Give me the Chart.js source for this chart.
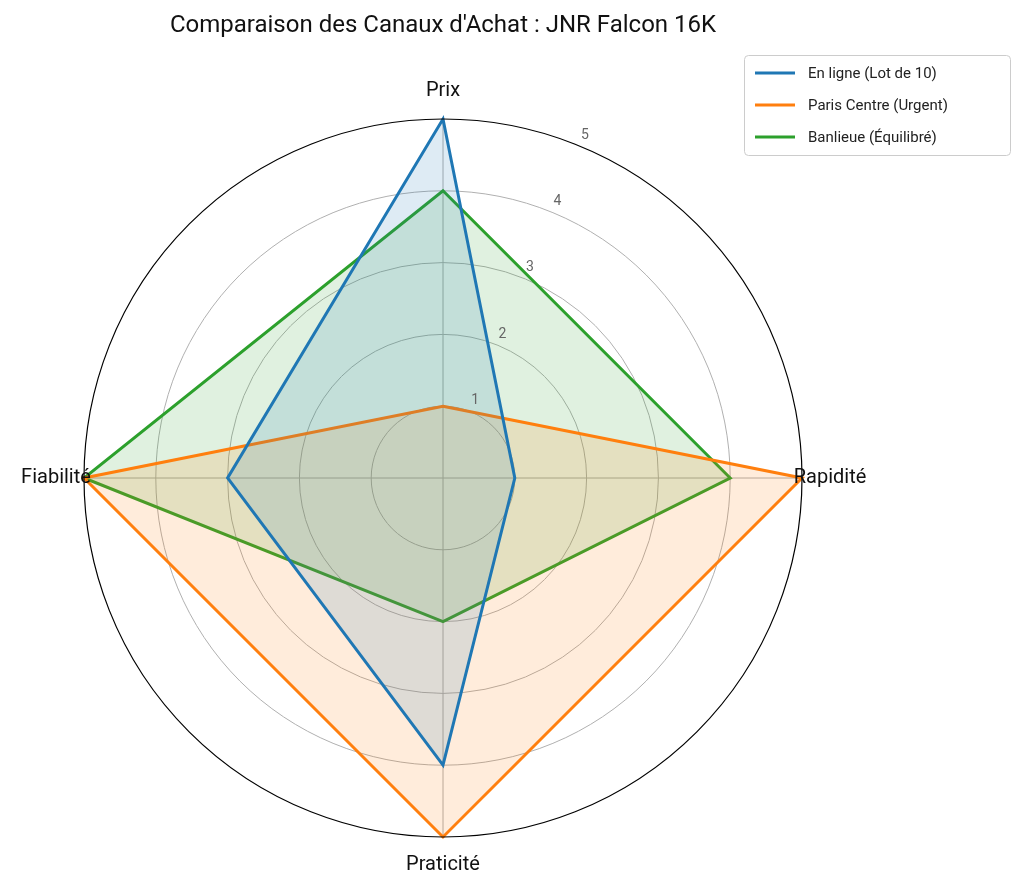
<!DOCTYPE html>
<html>
<head>
<meta charset="utf-8">
<script src="https://cdn.jsdelivr.net/npm/chart.js@4.4.0/dist/chart.umd.min.js"></script>
<style>
  html, body { margin: 0; padding: 0; background: #fff; }
  #wrap { width: 1024px; height: 890px; }
</style>
</head>
<body>
<div id="wrap"><canvas id="radar"></canvas></div>
<script>
const criteres = ['Prix', 'Rapidité', 'Praticité', 'Fiabilité'];
const enLigne = [5, 1, 4, 3];
const parisCentre = [1, 5, 5, 5];
const banlieue = [4, 4, 2, 5];
const tickValues = [1, 2, 3, 4, 5];
const titre = "Comparaison des Canaux d'Achat : JNR Falcon 16K";
const FONT = 'Roboto, "Noto Sans", sans-serif';

const series = [
    { label: 'En ligne (Lot de 10)', data: enLigne, color: '#1f77b4', fill: 'rgba(31,119,180,0.15)' },
    { label: 'Paris Centre (Urgent)', data: parisCentre, color: '#ff7f0e', fill: 'rgba(255,127,14,0.15)' },
    { label: 'Banlieue (Équilibré)', data: banlieue, color: '#2ca02c', fill: 'rgba(44,160,44,0.15)' }
];

const decor = {
    id: 'decor',
    afterDraw(chart) {
        const ctx = chart.ctx;
        const r = chart.scales.r;
        const cx = r.xCenter, cy = r.yCenter;
        ctx.save();
        // outer circle
        ctx.strokeStyle = '#000';
        ctx.lineWidth = 1.2;
        ctx.beginPath();
        ctx.arc(cx, cy, r.getDistanceFromCenterForValue(5), 0, Math.PI * 2);
        ctx.stroke();
        // tick labels at 22.5 degrees
        ctx.fillStyle = '#666';
        ctx.font = '14px ' + FONT;
        ctx.textAlign = 'center';
        ctx.textBaseline = 'middle';
        const a = 22.5 * Math.PI / 180;
        tickValues.forEach(v => {
            const d = r.getDistanceFromCenterForValue(v) + 12;
            ctx.fillText(String(v), cx + d * Math.sin(a), cy - d * Math.cos(a));
        });
        // point labels
        ctx.fillStyle = '#111';
        ctx.font = '20px ' + FONT;
        criteres.forEach((lab, i) => {
            const ang = i * Math.PI / 2;
            const d = r.getDistanceFromCenterForValue(5) + 28;
            ctx.fillText(lab, cx + d * Math.sin(ang), cy - d * Math.cos(ang));
        });
        // title
        ctx.font = '24px ' + FONT;
        ctx.fillText(titre, cx, 26);
        // legend
        ctx.strokeStyle = '#cccccc';
        ctx.lineWidth = 1;
        ctx.fillStyle = 'rgba(255,255,255,0.85)';
        ctx.beginPath();
        ctx.roundRect(744.5, 55.5, 266, 100, 4);
        ctx.fill();
        ctx.stroke();
        ctx.font = '15px ' + FONT;
        ctx.textAlign = 'left';
        series.forEach((s, i) => {
            const y = 73 + i * 32;
            ctx.strokeStyle = s.color;
            ctx.lineWidth = 3;
            ctx.beginPath();
            ctx.moveTo(755, y);
            ctx.lineTo(795, y);
            ctx.stroke();
            ctx.fillStyle = '#222';
            ctx.fillText(s.label, 808, y + 1);
        });
        ctx.restore();
    }
};

new Chart('radar', {
    type: 'radar',
    data: {
        labels: criteres,
        datasets: series.map(s => ({
            label: s.label,
            data: s.data,
            borderColor: s.color,
            backgroundColor: s.fill,
            borderWidth: 3,
            fill: true,
            pointRadius: 0,
            pointHoverRadius: 0
        }))
    },
    options: {
        responsive: true,
        maintainAspectRatio: false,
        animation: false,
        layout: { padding: { left: 84, right: 222, top: 119, bottom: 53 } },
        plugins: {
            legend: { display: false },
            title: { display: false },
            tooltip: { enabled: false }
        },
        scales: {
            r: {
                min: 0,
                max: 5,
                ticks: { stepSize: 1, display: false },
                pointLabels: { display: false },
                grid: {
                    circular: true,
                    color: c => c.tick && c.tick.value === 5 ? 'rgba(0,0,0,0)' : '#b0b0b0',
                    lineWidth: 1
                },
                angleLines: { color: '#b0b0b0', lineWidth: 1 }
            }
        }
    },
    plugins: [decor]
});
</script>
</body>
</html>
